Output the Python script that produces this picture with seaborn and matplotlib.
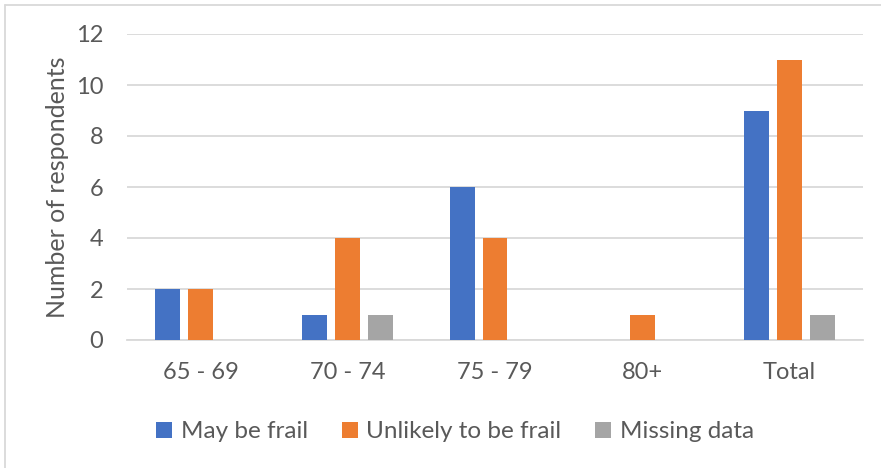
import matplotlib
matplotlib.use("Agg")
import matplotlib.pyplot as plt
import seaborn as sns
import pandas as pd
from matplotlib.patches import Patch
from matplotlib.lines import Line2D

# Respondents by age band and frailty status
age_groups = ["65 - 69", "70 - 74", "75 - 79", "80+", "Total"]
may_be_frail = [2, 1, 6, 0, 9]
unlikely_frail = [2, 4, 4, 1, 11]
missing_data = [0, 1, 0, 0, 1]
series_names = ["May be frail", "Unlikely to be frail", "Missing data"]
colors = ["#4472C4", "#ED7D31", "#A5A5A5"]

rows = []
for name, vals in zip(series_names, [may_be_frail, unlikely_frail, missing_data]):
    for g, v in zip(age_groups, vals):
        rows.append({"Age": g, "Status": name, "Count": v})
df = pd.DataFrame(rows)

sns.set_theme(style="white")
plt.rcParams["font.family"] = ["Lato", "DejaVu Sans"]
text_color = "#595959"
grid_color = "#D9D9D9"

fig = plt.figure(figsize=(8.81, 4.68), dpi=100)
ax = fig.add_axes([127 / 881, 1 - 340 / 468, (863 - 127) / 881, (340 - 34) / 468])

sns.barplot(data=df, x="Age", y="Count", hue="Status", order=age_groups,
            hue_order=series_names, palette=colors, width=0.67, gap=0.24,
            saturation=1, legend=False, ax=ax, zorder=3, linewidth=0)

ax.set_ylim(0, 12)
ax.set_yticks(range(0, 13, 2))
ax.set_xlim(-0.5, len(age_groups) - 0.5)
ax.yaxis.grid(True, color=grid_color, linewidth=1.3, zorder=0)
ax.set_axisbelow(True)
for side in ["top", "right", "left"]:
    ax.spines[side].set_visible(False)
ax.spines["bottom"].set_color(grid_color)
ax.spines["bottom"].set_linewidth(1.3)
ax.tick_params(axis="both", length=0, labelsize=17, colors=text_color)
ax.tick_params(axis="x", pad=16)
ax.tick_params(axis="y", pad=17)
ax.set_xlabel("")
ax.set_ylabel("Number of respondents", fontsize=18, color=text_color, labelpad=5)

handles = [Patch(facecolor=c, edgecolor="none") for c in colors]
fig.legend(handles, series_names, loc="center", bbox_to_anchor=(455 / 881, 1 - 432 / 468),
           ncol=3, frameon=False, fontsize=17.5, labelcolor=text_color,
           handlelength=0.65, handleheight=0.65, handletextpad=0.35, columnspacing=1.4)

# Chart-area frame
fig.add_artist(Line2D([5 / 881, 5 / 881], [0, 1 - 5 / 468], transform=fig.transFigure,
                      color=grid_color, linewidth=1.3))
fig.add_artist(Line2D([5 / 881, 1], [1 - 5 / 468, 1 - 5 / 468], transform=fig.transFigure,
                      color=grid_color, linewidth=1.3))

fig.savefig("out.png", dpi=100)
